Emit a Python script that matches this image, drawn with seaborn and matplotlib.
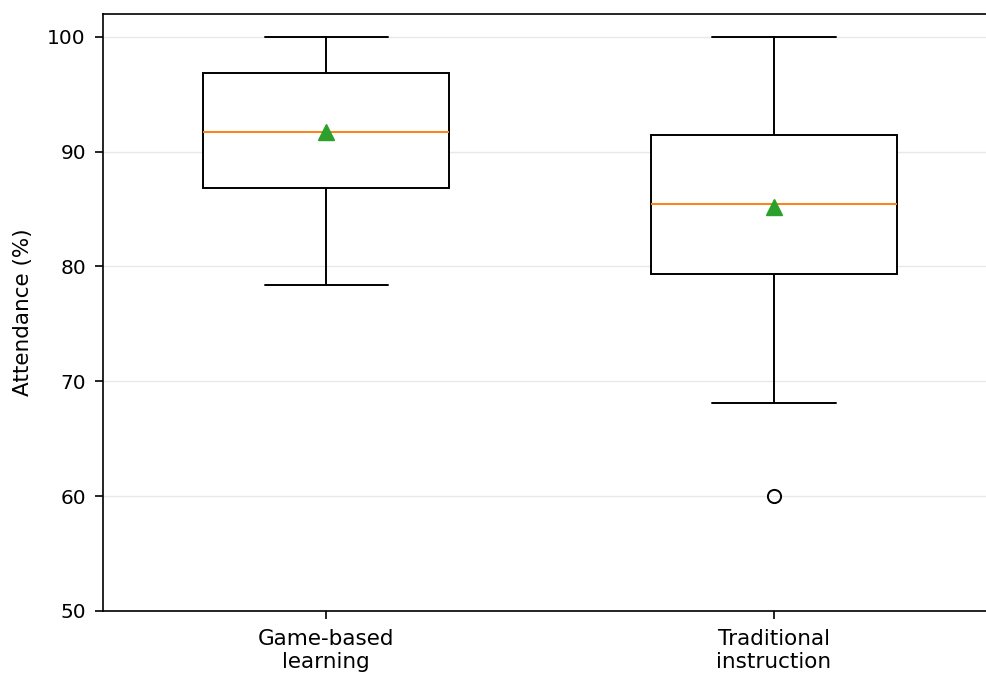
import matplotlib
matplotlib.use("Agg")
import matplotlib.pyplot as plt
import seaborn as sns
import pandas as pd

# Attendance records (%) for each teaching approach
groups = ["Game-based\nlearning", "Traditional\ninstruction"]
game_based = [78.4, 85.5, 86.8, 90.5, 91.7, 96.0, 96.8, 99.6, 100.0]
traditional = [60.0, 68.1, 78.5, 79.3, 84.0, 85.0, 85.4, 89.0, 91.0,
               91.4, 96.9, 99.0, 100.0]
y_ticks = [50, 60, 70, 80, 90, 100]

df = pd.DataFrame({
    "group": [groups[0]] * len(game_based) + [groups[1]] * len(traditional),
    "attendance": game_based + traditional,
})

sns.set_theme(style="ticks")
plt.rcParams["font.family"] = ["DejaVu Sans"]
plt.rcParams["text.color"] = "black"
plt.rcParams["axes.labelcolor"] = "black"
plt.rcParams["xtick.color"] = "black"
plt.rcParams["ytick.color"] = "black"

fig = plt.figure(figsize=(9.86, 6.76), dpi=100)
ax = fig.add_axes([0.104, 0.0962, 0.908, 0.8835])

lw = 1.4
sns.boxplot(
    data=df, x="group", y="attendance", order=groups, ax=ax,
    color="white", linecolor="black", linewidth=lw, width=0.55,
    whis=1.5, saturation=1,
    showmeans=True,
    medianprops=dict(color="#ff7f0e", linewidth=lw),
    meanprops=dict(marker="^", markerfacecolor="#2ca02c",
                   markeredgecolor="#2ca02c", markersize=11),
    flierprops=dict(marker="o", markerfacecolor="none",
                    markeredgecolor="black", markersize=9.5,
                    markeredgewidth=lw),
)

ax.set_xlim(-0.5, 1.5)
ax.set_ylim(50, 102)
ax.set_yticks(y_ticks)
ax.yaxis.grid(True, color="#e8e8e8", linewidth=1.0)
ax.set_axisbelow(True)
ax.set_xlabel("")
ax.set_ylabel("Attendance (%)", fontsize=15.5, labelpad=10)
ax.tick_params(axis="both", length=6, width=1.2, pad=6,
               color="black", labelcolor="black", direction="out")
ax.tick_params(axis="y", labelsize=14.5)
ax.tick_params(axis="x", labelsize=15.5, pad=7)
for name, s in ax.spines.items():
    s.set_linewidth(1.2)
    s.set_color("black")
ax.spines["right"].set_visible(False)

fig.savefig("out.png", dpi=100)
